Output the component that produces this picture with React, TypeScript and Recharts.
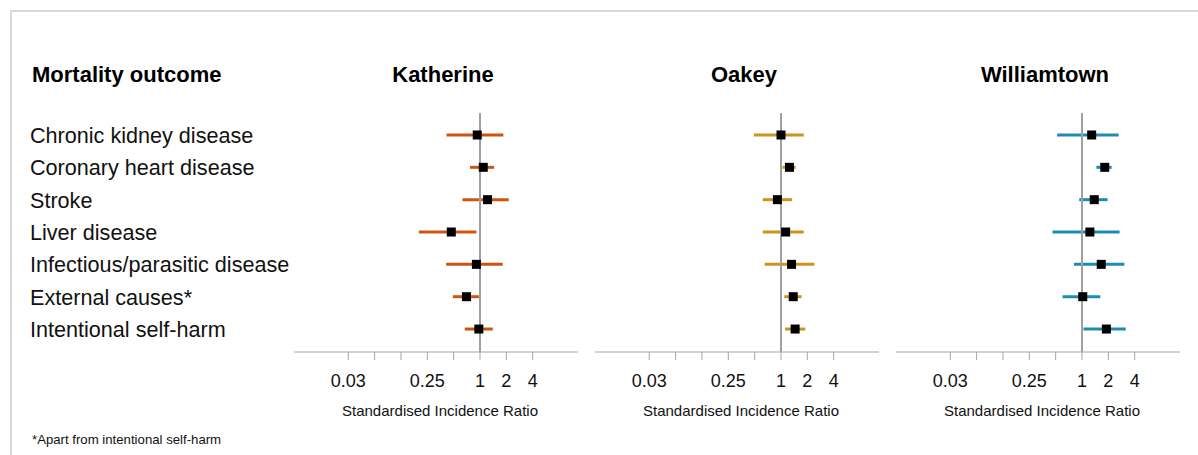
import React from "react"
import { ScatterChart, Scatter, XAxis, YAxis, ErrorBar, ReferenceLine } from "recharts"

const outcomes = [
  "Chronic kidney disease",
  "Coronary heart disease",
  "Stroke",
  "Liver disease",
  "Infectious/parasitic disease",
  "External causes*",
  "Intentional self-harm",
]

const sites = ["Katherine", "Oakey", "Williamtown"]
const siteColors = ["#CC5512", "#CC9419", "#1A8CB5"]

// SIR point estimates and 95% CI per site, one value per outcome
const katherineSir = [0.93, 1.09, 1.22, 0.47, 0.91, 0.7, 0.97]
const katherineLow = [0.415, 0.77, 0.63, 0.2, 0.41, 0.49, 0.67]
const katherineHigh = [1.85, 1.45, 2.13, 0.91, 1.82, 0.97, 1.4]

const oakeySir = [1.0, 1.25, 0.91, 1.13, 1.32, 1.38, 1.45]
const oakeyLow = [0.49, 1.04, 0.62, 0.62, 0.65, 1.09, 1.11]
const oakeyHigh = [1.82, 1.47, 1.34, 1.82, 2.41, 1.72, 1.9]

const williamtownSir = [1.29, 1.82, 1.38, 1.23, 1.66, 1.02, 1.9]
const williamtownLow = [0.52, 1.46, 0.93, 0.46, 0.81, 0.6, 1.04]
const williamtownHigh = [2.62, 2.18, 1.96, 2.69, 3.05, 1.62, 3.16]

const tickValues = [0.03125, 0.0625, 0.125, 0.25, 0.5, 1, 2, 4]
const tickLabels = ["0.03", "", "", "0.25", "", "1", "2", "4"]

const siteSir = [katherineSir, oakeySir, williamtownSir]
const siteLow = [katherineLow, oakeyLow, williamtownLow]
const siteHigh = [katherineHigh, oakeyHigh, williamtownHigh]

const axisStarts = [294, 595, 896]
const font = "Arial, 'Liberation Sans', Helvetica, sans-serif"

function Square(props: any) {
  const { cx, cy } = props
  if (cx == null || cy == null) return null
  return <rect x={cx - 4.5} y={cy - 4.5} width={9} height={9} fill="#000" />
}

function Panel({ index }: { index: number }) {
  const data = outcomes.map((name, i) => ({
    name,
    row: i,
    sir: siteSir[index][i],
    err: [siteSir[index][i] - siteLow[index][i], siteHigh[index][i] - siteSir[index][i]],
  }))
  const color = siteColors[index]
  const left = axisStarts[index]
  return (
    <div style={{ position: "absolute", left: left - 10, top: 0 }}>
      <ScatterChart width={304} height={455} margin={{ top: 113, right: 10, bottom: 0, left: 10 }}>
        <XAxis
          type="number"
          dataKey="sir"
          scale="log"
          domain={[Math.pow(2, -7.06), Math.pow(2, 3.72)]}
          allowDataOverflow
          ticks={tickValues}
          interval={0}
          tickFormatter={(v: number) => tickLabels[tickValues.indexOf(v)] ?? ""}
          height={103}
          tickSize={8}
          tickMargin={14}
          stroke="#A6A6A6"
          tick={{ fill: "#111", fontSize: 18, fontFamily: font }}
        />
        <YAxis type="number" dataKey="row" domain={[-0.68, 6.71]} reversed hide />
        <Scatter data={data} fill="#000" shape={<Square />} isAnimationActive={false}>
          <ErrorBar dataKey="err" direction="x" width={0} stroke={color} strokeWidth={3} />
        </Scatter>
        <ReferenceLine x={1} stroke="#A0A0A0" strokeWidth={2} ifOverflow="extendDomain" />
      </ScatterChart>
      <div
        style={{
          position: "absolute",
          left: 10,
          width: 284,
          top: 402,
          textAlign: "center",
          fontSize: 15,
          fontFamily: font,
          color: "#111",
          paddingLeft: 8,
          boxSizing: "border-box",
          whiteSpace: "nowrap",
        }}
      >
        Standardised Incidence Ratio
      </div>
      <div
        style={{
          position: "absolute",
          left: 10,
          width: 284,
          top: 62,
          textAlign: "center",
          fontSize: 22,
          fontWeight: "bold",
          fontFamily: font,
          color: "#000",
          paddingLeft: 14,
          boxSizing: "border-box",
        }}
      >
        {sites[index]}
      </div>
    </div>
  )
}

export default function App() {
  return (
    <div
      style={{
        position: "absolute",
        left: 0,
        top: 0,
        width: 1198,
        height: 455,
        background: "#fff",
        overflow: "hidden",
        fontFamily: font,
      }}
    >
      <div
        style={{
          position: "absolute",
          left: 10,
          top: 10,
          width: 1200,
          height: 460,
          borderTop: "2px solid #D9D9D9",
          borderLeft: "2px solid #D9D9D9",
        }}
      />
      <div style={{ position: "absolute", left: 32, top: 62, fontSize: 22, fontWeight: "bold", color: "#000" }}>
        Mortality outcome
      </div>
      {outcomes.map((name, i) => (
        <div
          key={name}
          style={{
            position: "absolute",
            left: 30,
            top: 123 + i * 32.35,
            fontSize: 21.6,
            color: "#111",
            whiteSpace: "nowrap",
          }}
        >
          {name}
        </div>
      ))}
      {sites.map((s, i) => (
        <Panel key={s} index={i} />
      ))}
      <div style={{ position: "absolute", left: 32, top: 432, fontSize: 13.2, color: "#111" }}>
        *Apart from intentional self-harm
      </div>
    </div>
  )
}
